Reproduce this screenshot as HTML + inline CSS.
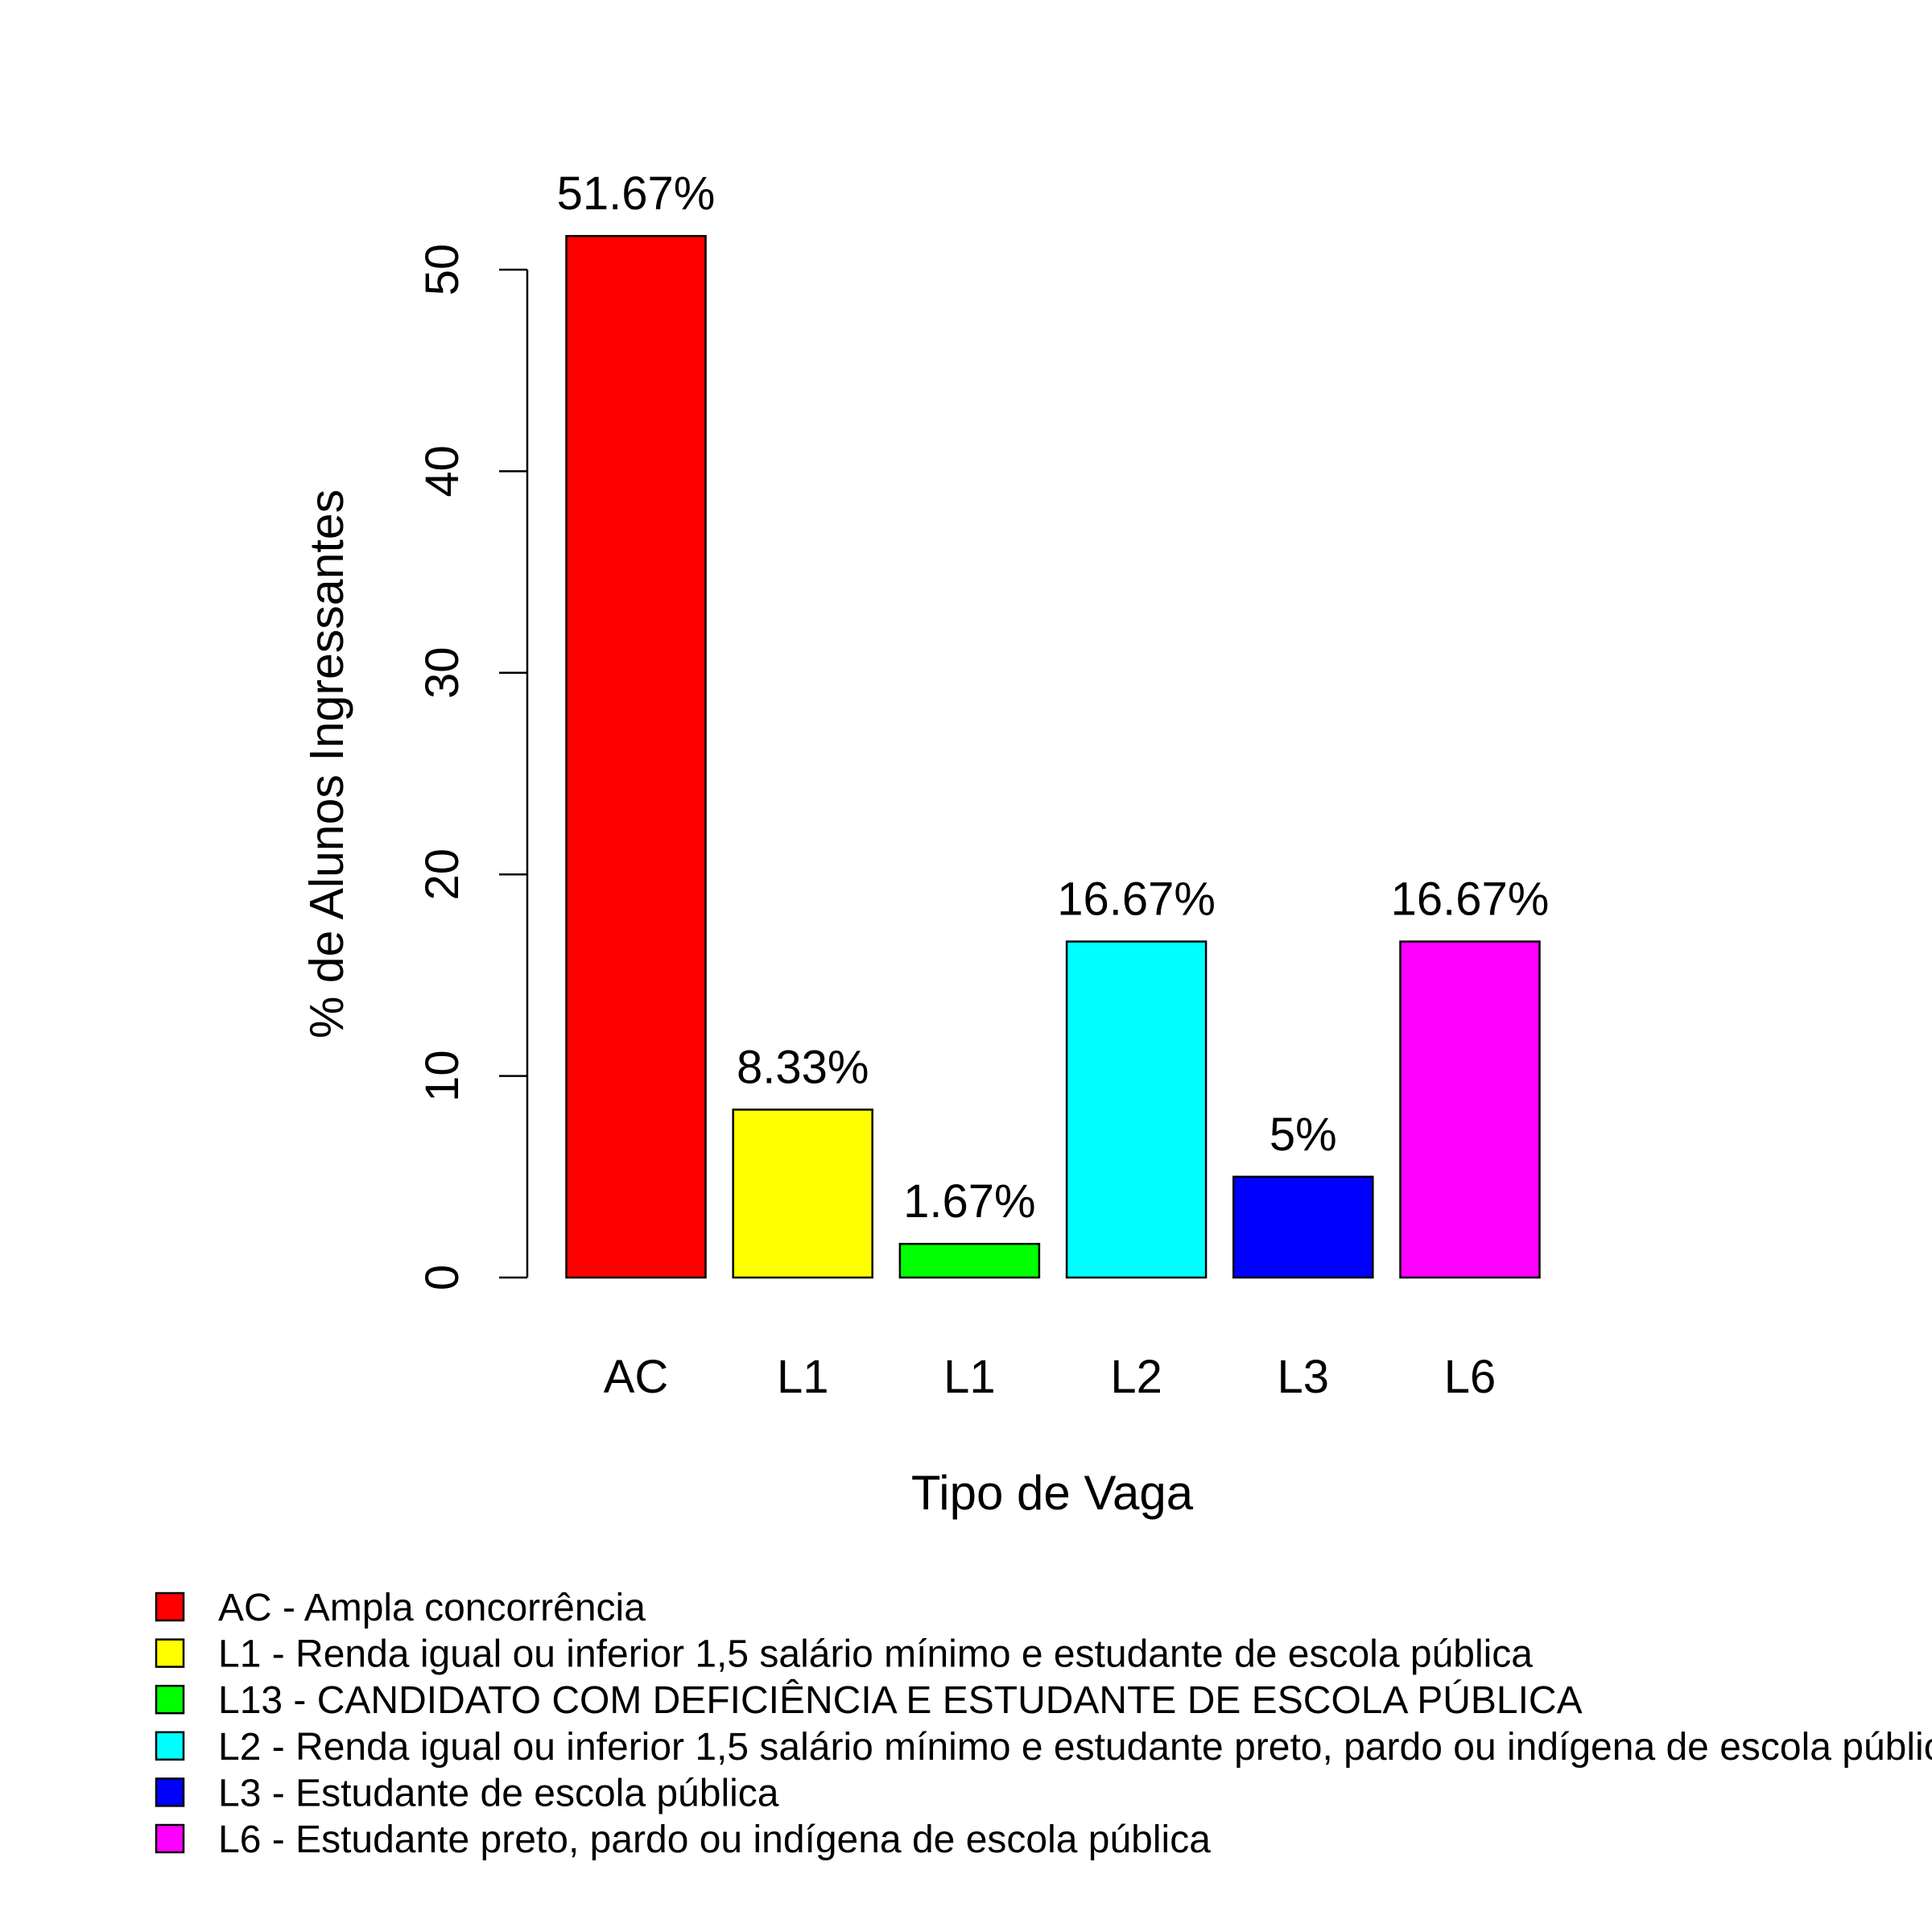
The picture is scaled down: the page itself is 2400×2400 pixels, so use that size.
<!DOCTYPE html>
<html><head><meta charset="utf-8"><style>
html,body{margin:0;padding:0;background:#fff;}
svg{display:block;font-family:"Liberation Sans",Arial,sans-serif;}
</style></head><body>
<svg id="chart" width="2400" height="2400" viewBox="0 0 2400 2400" xmlns="http://www.w3.org/2000/svg">
<rect width="2400" height="2400" fill="#fff"/>
<g id="axis"></g>
<g id="bars"></g>
<g id="legend"></g>
<text x="1307" y="1875" font-size="60" text-anchor="middle">Tipo de Vaga</text>
<text transform="translate(426,949) rotate(-90)" font-size="59" text-anchor="middle">% de Alunos Ingressantes</text>
</svg>
<script>
const categories = ["AC","L1","L1","L2","L3","L6"];
const values = [51.67, 8.33, 1.67, 16.67, 5, 16.67];
const valueLabels = ["51.67%","8.33%","1.67%","16.67%","5%","16.67%"];
const colors = ["#ff0000","#ffff00","#00ff00","#00ffff","#0000ff","#ff00ff"];
const yTicks = [0,10,20,30,40,50];
const legendLabels = [
 "AC - Ampla concorrência",
 "L1 - Renda igual ou inferior 1,5 salário mínimo e estudante de escola pública",
 "L13 - CANDIDATO COM DEFICIÊNCIA E ESTUDANTE DE ESCOLA PÚBLICA",
 "L2 - Renda igual ou inferior 1,5 salário mínimo e estudante preto, pardo ou indígena de escola pública",
 "L3 - Estudante de escola pública",
 "L6 - Estudante preto, pardo ou indígena de escola pública"
];
const NS="http://www.w3.org/2000/svg";
function y(v){return 1587 - v*25.04;}
function xc(i){return 790 + i*207.2;}
const BW=173;
function mk(tag,attrs,parent){const e=document.createElementNS(NS,tag);for(const k in attrs)e.setAttribute(k,attrs[k]);parent.appendChild(e);return e;}
const ax=document.getElementById('axis');
const a=mk('line',{x1:655,x2:655,y1:y(0),y2:y(50),stroke:'#000','stroke-width':2.5},ax);


yTicks.forEach(t=>{
 const l=mk('line',{x1:620,x2:655,y1:y(t),y2:y(t),stroke:'#000','stroke-width':2.5},ax);
 
 
 const tx=mk('text',{transform:`translate(569,${y(t)}) rotate(-90)`,'font-size':58,'text-anchor':'middle'},ax);
 tx.textContent=t;
 
 
});
const bg=document.getElementById('bars');
values.forEach((v,i)=>{
 const r=mk('rect',{x:xc(i)-BW/2,y:y(v),width:BW,height:y(0)-y(v),fill:colors[i],stroke:'#000','stroke-width':2.5},bg);
 
 
 const t=mk('text',{x:xc(i),y:y(v)-33,'font-size':58,'text-anchor':'middle'},bg);
 t.textContent=valueLabels[i];
 
 
 const c=mk('text',{x:xc(i),y:1730,'font-size':58,'text-anchor':'middle'},bg);
 c.textContent=categories[i];
 
 
});
const lg=document.getElementById('legend');
legendLabels.forEach((s,i)=>{
 const cy=1996+i*57.6;
 const b=mk('rect',{x:194,y:cy-17,width:34,height:34,fill:colors[i],stroke:'#000','stroke-width':2.5},lg);
 
 
 const t=mk('text',{x:271,y:cy+17,'font-size':48},lg);
 t.textContent=s;
 
 
});
</script>
</body></html>
